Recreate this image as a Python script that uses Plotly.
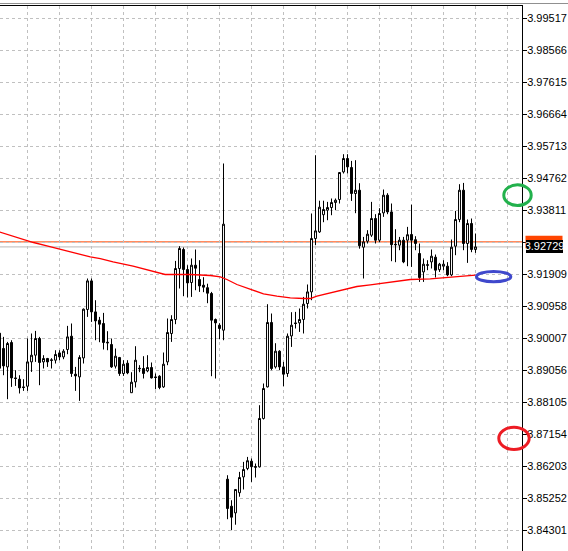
import plotly.graph_objects as go

# ---- data ----
bars = list(range(120))
open_ = [3.90165, 3.89710, 3.89163, 3.89888, 3.88836, 3.88797, 3.88569, 3.88589, 3.89312, 3.89511,
         3.90007, 3.89312, 3.89413, 3.89353, 3.89362, 3.89579, 3.89460, 3.89680, 3.90075, 3.88946,
         3.88866, 3.89430, 3.90869, 3.91719, 3.90798, 3.90551, 3.90453, 3.89897, 3.89829, 3.89184,
         3.89442, 3.88967, 3.89273, 3.88396, 3.88717, 3.89124, 3.89115, 3.89044, 3.89145, 3.88866,
         3.88887, 3.88569, 3.89312, 3.90156, 3.90572, 3.92087, 3.92652, 3.92058, 3.91671, 3.92185,
         3.91760, 3.91591, 3.91517, 3.91344, 3.90572, 3.90402, 3.90254, 3.85826, 3.85023, 3.84824,
         3.85424, 3.85894, 3.86144, 3.86361, 3.86203, 3.86191, 3.87630, 3.88569, 3.90483, 3.89163,
         3.89630, 3.89163, 3.88967, 3.90084, 3.90471, 3.90471, 3.90572, 3.91047, 3.91392, 3.92979,
         3.93175, 3.93686, 3.93820, 3.93900, 3.94049, 3.94138, 3.94958, 3.95356, 3.95089, 3.94316,
         3.94414, 3.92720, 3.92899, 3.93077, 3.93573, 3.92928, 3.93740, 3.94266, 3.93769, 3.92809,
         3.92780, 3.92928, 3.92928, 3.93098, 3.92943, 3.92533, 3.91986, 3.92200, 3.92283, 3.92423,
         3.92052, 3.92156, 3.92156, 3.91897, 3.92750, 3.93544, 3.94414, 3.92830, 3.93425, 3.92652]
high = [3.90352, 3.90055, 3.89906, 3.89956, 3.89065, 3.88916, 3.88797, 3.90007, 3.90156, 3.90233,
        3.90055, 3.89511, 3.89430, 3.89422, 3.89659, 3.89659, 3.89689, 3.90382, 3.90453, 3.89163,
        3.89511, 3.90899, 3.91790, 3.91790, 3.91145, 3.90649, 3.90768, 3.90224, 3.90007, 3.89710,
        3.89460, 3.89362, 3.89362, 3.89005, 3.89778, 3.89214, 3.89481, 3.89511, 3.89294, 3.88967,
        3.88916, 3.89591, 3.90601, 3.90699, 3.92313, 3.92750, 3.92711, 3.92185, 3.92385, 3.92652,
        3.92334, 3.91829, 3.91636, 3.91392, 3.90601, 3.90462, 3.95208, 3.85944, 3.85201, 3.85520,
        3.86043, 3.86340, 3.86488, 3.86441, 3.86292, 3.88025, 3.88670, 3.91026, 3.90750, 3.89867,
        3.89659, 3.89312, 3.90156, 3.90789, 3.90798, 3.90899, 3.91243, 3.91612, 3.93722, 3.95454,
        3.94102, 3.94102, 3.94067, 3.94168, 3.94168, 3.94949, 3.95484, 3.95484, 3.95285, 3.95306,
        3.94622, 3.93026, 3.93226, 3.94067, 3.93701, 3.93879, 3.94435, 3.94325, 3.94019, 3.93255,
        3.93026, 3.93026, 3.93324, 3.93983, 3.93047, 3.92830, 3.92385, 3.92334, 3.92652, 3.92503,
        3.92254, 3.92334, 3.92275, 3.92949, 3.93799, 3.94593, 3.94631, 3.93544, 3.93573, 3.93127]
low = [3.88768, 3.88916, 3.88203, 3.88569, 3.88598, 3.88373, 3.88450, 3.88450, 3.89014, 3.89312,
       3.88619, 3.89115, 3.89163, 3.89115, 3.89264, 3.89362, 3.89392, 3.89540, 3.88866, 3.88450,
       3.88153, 3.89264, 3.90649, 3.90500, 3.89956, 3.89897, 3.89680, 3.89659, 3.89133, 3.89115,
       3.88896, 3.88896, 3.88946, 3.88390, 3.88551, 3.89005, 3.88818, 3.89005, 3.88818, 3.88500,
       3.88500, 3.88539, 3.89214, 3.89906, 3.90432, 3.91493, 3.91264, 3.91226, 3.91243, 3.91442,
       3.91392, 3.91383, 3.91056, 3.88887, 3.88818, 3.89986, 3.89956, 3.84637, 3.84310, 3.84473,
       3.85305, 3.85520, 3.86093, 3.85745, 3.85876, 3.86173, 3.87600, 3.88551, 3.89065, 3.89115,
       3.89065, 3.88589, 3.88866, 3.89757, 3.90304, 3.90203, 3.90156, 3.90899, 3.91145, 3.92780,
       3.93145, 3.93463, 3.93523, 3.93671, 3.93820, 3.94019, 3.94911, 3.94911, 3.94096, 3.93731,
       3.92676, 3.91790, 3.92830, 3.93026, 3.92830, 3.92869, 3.93621, 3.93701, 3.92304, 3.92275,
       3.92631, 3.92245, 3.92156, 3.92135, 3.92631, 3.91689, 3.91689, 3.92037, 3.92087, 3.91820,
       3.91986, 3.92037, 3.91858, 3.91858, 3.92483, 3.93463, 3.92631, 3.92254, 3.92572, 3.92551]
close = [3.89124, 3.89193, 3.89858, 3.88836, 3.88818, 3.88539, 3.88551, 3.89312, 3.89511, 3.90007,
         3.89294, 3.89413, 3.89312, 3.89371, 3.89532, 3.89460, 3.89630, 3.90055, 3.88967, 3.88896,
         3.89442, 3.90878, 3.91719, 3.90798, 3.90530, 3.90432, 3.89888, 3.89879, 3.89163, 3.89481,
         3.88967, 3.89243, 3.88985, 3.88708, 3.89362, 3.89110, 3.88967, 3.89145, 3.88836, 3.88848,
         3.88551, 3.89243, 3.90185, 3.90572, 3.92087, 3.92682, 3.92058, 3.91659, 3.92185, 3.92096,
         3.91570, 3.91532, 3.91353, 3.90551, 3.90471, 3.90304, 3.93404, 3.84955, 3.84696, 3.85520,
         3.85876, 3.86114, 3.86375, 3.86197, 3.86182, 3.87630, 3.88521, 3.90483, 3.89115, 3.89630,
         3.89163, 3.88946, 3.90075, 3.90402, 3.90453, 3.90572, 3.91026, 3.91392, 3.92979, 3.93205,
         3.93909, 3.93841, 3.93900, 3.94049, 3.94117, 3.94940, 3.95356, 3.95107, 3.94316, 3.94414,
         3.92765, 3.92878, 3.93107, 3.93573, 3.92928, 3.93722, 3.94266, 3.93769, 3.92795, 3.92795,
         3.92928, 3.92283, 3.93092, 3.92928, 3.92830, 3.91820, 3.92215, 3.92185, 3.92453, 3.92037,
         3.92215, 3.92215, 3.91897, 3.92720, 3.93544, 3.94414, 3.92830, 3.93425, 3.92652, 3.92729]

# moving average line (read points: bar position, value)
ma_x = [-0.2, 6.85, 8.5, 11.85, 15.2, 22.7, 25.2, 28.4, 33.4, 38.4, 41.4, 47.7, 52.7, 55.2, 56.85,
        59.35, 62.7, 66.0, 69.35, 72.7, 76.0, 77.7, 79.35, 82.7, 86.0, 89.35, 92.7, 95.2, 102.7,
        107.7, 112.7, 116.0, 119.0]
ma_y = [3.93180, 3.92908, 3.92860, 3.92759, 3.92652, 3.92432, 3.92384, 3.92283, 3.92156, 3.92007,
        3.91909, 3.91909, 3.91879, 3.91838, 3.91760, 3.91612, 3.91472, 3.91332, 3.91264, 3.91214,
        3.91196, 3.91196, 3.91264, 3.91362, 3.91472, 3.91552, 3.91600, 3.91636, 3.91760, 3.91778,
        3.91820, 3.91867, 3.91888]

bid = 3.92729
ask = 3.92878
tick_values = [3.84301, 3.85252, 3.86203, 3.87154, 3.88105, 3.89056, 3.90007, 3.90958, 3.91909,
               3.92860, 3.93811, 3.94762, 3.95713, 3.96664, 3.97615, 3.98566, 3.99517]
hidden_tick = 3.92860  # covered by the bid label in the reference
tick_labels = ["" if abs(v - hidden_tick) < 1e-9 else f"{v:.5f}" for v in tick_values]

LABEL_FONT = "Liberation Sans Narrow, Liberation Sans, Arial"

# ---- figure ----
W, H = 568, 551
L, R, T, B = 0, 46, 6, 0
PW, PH = W - L - R, H - T - B

def px_x(x):
    return (x - L) / PW

def px_y(y):
    return (H - B - y) / PH

fig = go.Figure()

fig.add_trace(go.Candlestick(
    x=bars, open=open_, high=high, low=low, close=close,
    increasing=dict(line=dict(color="black", width=1), fillcolor="white"),
    decreasing=dict(line=dict(color="black", width=1), fillcolor="black"),
    whiskerwidth=0, showlegend=False, hoverinfo="skip",
))

fig.add_trace(go.Scatter(
    x=ma_x, y=ma_y, mode="lines", line=dict(color="#ff0000", width=1.3),
    showlegend=False, hoverinfo="skip",
))

shapes = [
    dict(type="line", xref="paper", yref="y", x0=0, x1=1, y0=bid, y1=bid,
         line=dict(color="#b8b8b8", width=1), layer="below"),
    dict(type="line", xref="paper", yref="y", x0=0, x1=1, y0=ask, y1=ask,
         line=dict(color="#ff4500", width=1), layer="below"),
    dict(type="rect", xref="paper", yref="y", x0=px_x(525.5), x1=px_x(562.5),
         ysizemode="pixel", yanchor=ask, y0=-6.25, y1=6.25,
         fillcolor="#ff4500", line=dict(width=0), layer="above"),
    dict(type="line", xref="paper", yref="paper", x0=0, x1=px_x(W), y0=px_y(3.5), y1=px_y(3.5),
         line=dict(color="#909090", width=1)),
    dict(type="circle", xref="paper", yref="paper", x0=px_x(503.8), x1=px_x(531.2),
         y0=px_y(205.5), y1=px_y(184.8), line=dict(color="#22b14c", width=3)),
    dict(type="circle", xref="paper", yref="paper", x0=px_x(476.5), x1=px_x(510.8),
         y0=px_y(281.8), y1=px_y(271.5), line=dict(color="#3f48cc", width=3)),
    dict(type="circle", xref="paper", yref="paper", x0=px_x(498.8), x1=px_x(529.2),
         y0=px_y(449.5), y1=px_y(427.2), line=dict(color="#ed1c24", width=3)),
]

annotations = [
    dict(xref="paper", yref="y", x=px_x(525.5), y=bid, xanchor="left", yanchor="middle",
         text=f"{bid:.5f}", showarrow=False, align="center",
         width=37, height=12.5, bgcolor="black", borderpad=0, borderwidth=0,
         font=dict(family=LABEL_FONT, size=11, color="white")),
]

k = (tick_values[1] - tick_values[0]) / 32.0
y_top = tick_values[-1] + (18.5 - T) * k
y_bot = tick_values[0] - (H - B - 530.5) * k

fig.update_layout(
    width=W, height=H,
    margin=dict(l=L, r=R, t=T, b=B, pad=0),
    paper_bgcolor="white", plot_bgcolor="white",
    showlegend=False,
    shapes=shapes, annotations=annotations,
    xaxis=dict(
        range=[0.125, 130.625], side="top", showline=True, linecolor="black", linewidth=1,
        showgrid=True, gridcolor="#c0c0c0", griddash="3px,3px", gridwidth=1,
        tick0=7, dtick=8, tickmode="linear", showticklabels=False, ticks="",
        zeroline=False, rangeslider=dict(visible=False), fixedrange=True, automargin=False,
    ),
    yaxis=dict(
        range=[y_bot, y_top], side="right", showline=True, linecolor="black", linewidth=1,
        showgrid=True, gridcolor="#c0c0c0", griddash="3px,3px", gridwidth=1,
        tickmode="array", tickvals=tick_values, ticktext=tick_labels,
        ticks="outside", ticklen=4, tickcolor="black", tickwidth=1,
        ticklabelstandoff=-2,
        tickfont=dict(family=LABEL_FONT, size=11, color="black"),
        zeroline=False, fixedrange=True, automargin=False,
    ),
)

fig.write_html(
    "out.html",
    config={"displayModeBar": False},
    post_script="document.body.style.margin='0';document.body.style.padding='0';",
)
